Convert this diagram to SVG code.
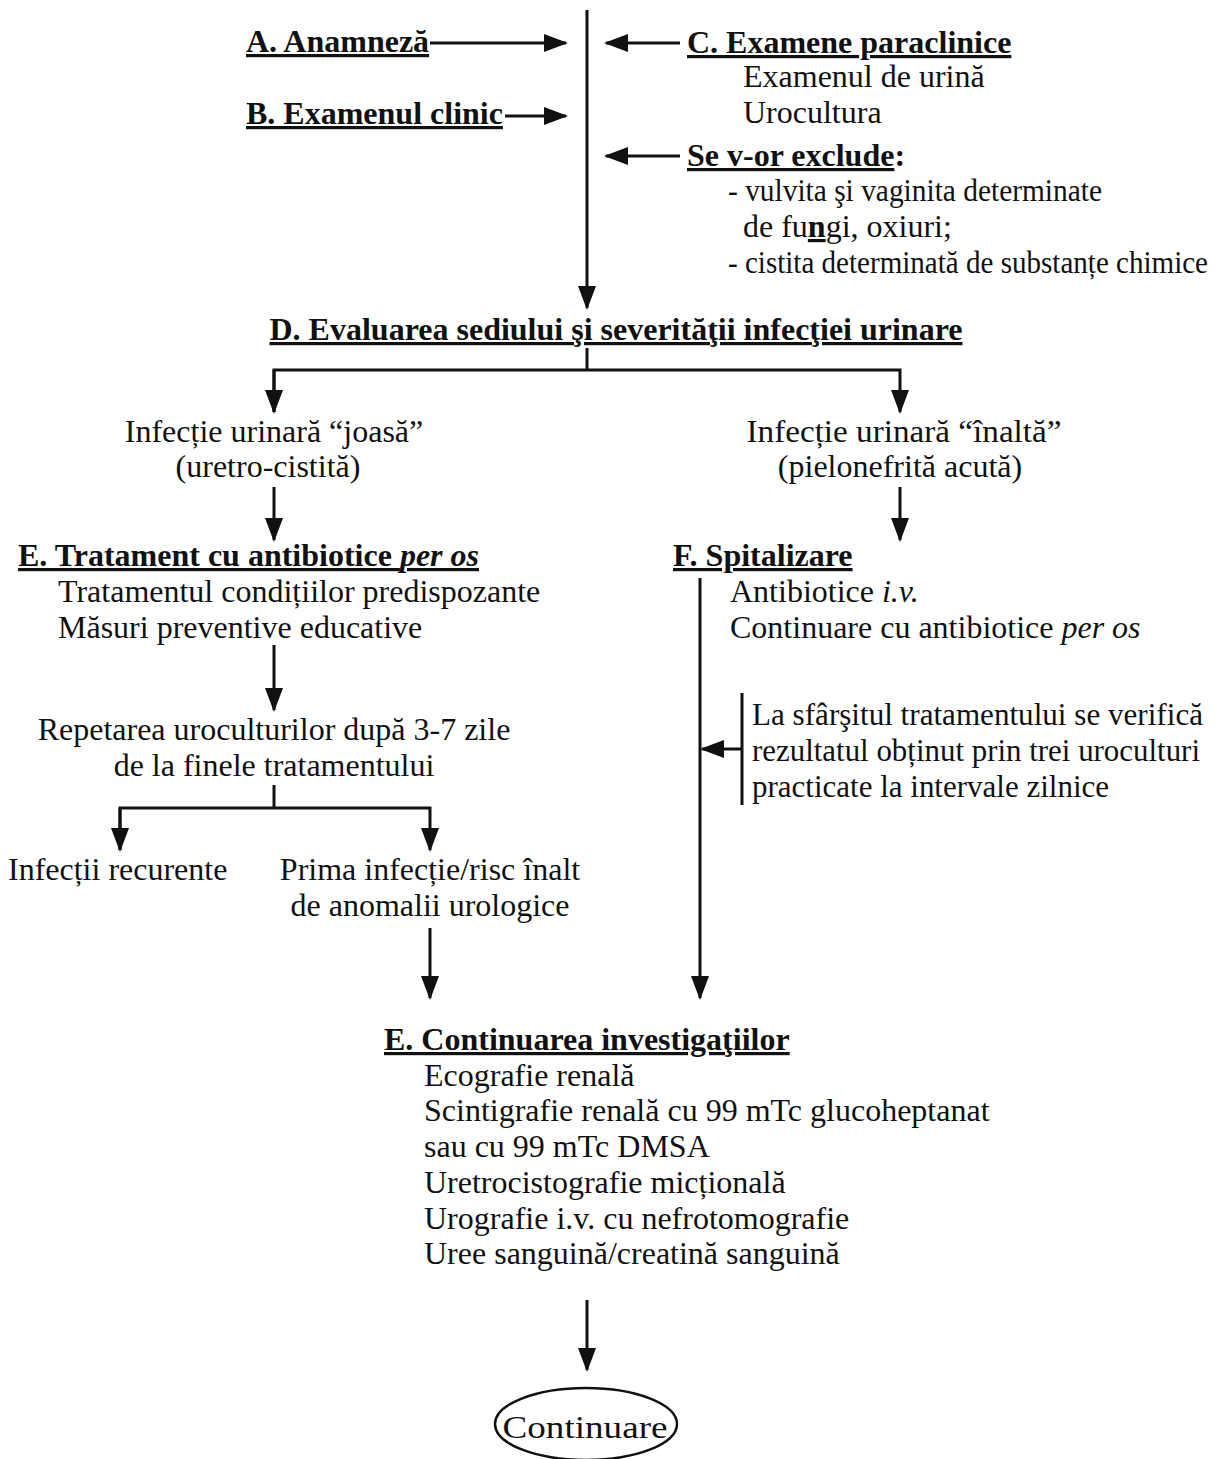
<svg xmlns="http://www.w3.org/2000/svg" width="1220" height="1459" viewBox="0 0 1220 1459">
<style>
  text { font-family: "Liberation Serif", "Times New Roman", serif; font-size: 32px; fill: #111; }
  .h { font-weight: bold; text-decoration: underline; text-decoration-thickness: 2.5px; }
  .c { text-anchor: middle; }
  .it { font-style: italic; }
  .ln { stroke: #111; stroke-width: 3; fill: none; }
</style>
<defs>
  <marker id="ah" markerUnits="userSpaceOnUse" markerWidth="24" markerHeight="18" viewBox="0 0 24 18" refX="22" refY="9" orient="auto">
    <path d="M0,0 L24,9 L0,18 Z" fill="#111"/>
  </marker>
</defs>

<g id="connectors">
  <line class="ln" x1="587" y1="10" x2="587" y2="308" marker-end="url(#ah)"/>
  <line class="ln" x1="430" y1="43" x2="566" y2="43" marker-end="url(#ah)"/>
  <line class="ln" x1="505" y1="116" x2="566" y2="116" marker-end="url(#ah)"/>
  <line class="ln" x1="680" y1="43" x2="606" y2="43" marker-end="url(#ah)"/>
  <line class="ln" x1="680" y1="156" x2="606" y2="156" marker-end="url(#ah)"/>
  <polyline class="ln" points="587,348 587,370"/>
  <polyline class="ln" points="274,412 274,370 900,370 900,412" marker-end="url(#ah)"/>
  <line class="ln" x1="274" y1="370" x2="274" y2="412" marker-end="url(#ah)"/>
  <line class="ln" x1="274" y1="487" x2="274" y2="540" marker-end="url(#ah)"/>
  <line class="ln" x1="900" y1="487" x2="900" y2="540" marker-end="url(#ah)"/>
  <line class="ln" x1="274" y1="645" x2="274" y2="710" marker-end="url(#ah)"/>
  <polyline class="ln" points="274,785 274,808"/>
  <polyline class="ln" points="120,850 120,808 430,808 430,850" marker-end="url(#ah)"/>
  <line class="ln" x1="120" y1="808" x2="120" y2="850" marker-end="url(#ah)"/>
  <line class="ln" x1="430" y1="928" x2="430" y2="998" marker-end="url(#ah)"/>
  <line class="ln" x1="700" y1="578" x2="700" y2="998" marker-end="url(#ah)"/>
  <line class="ln" x1="742" y1="693" x2="742" y2="805"/>
  <line class="ln" x1="742" y1="749" x2="702" y2="749" marker-end="url(#ah)"/>
  <line class="ln" x1="587" y1="1300" x2="587" y2="1370" marker-end="url(#ah)"/>
</g>

<g id="node-a"><text class="h" x="246" y="52">A. Anamneză</text></g>
<g id="node-b"><text class="h" x="246" y="124">B. Examenul clinic</text></g>
<g id="node-c">
  <text class="h" x="687" y="53">C. Examene paraclinice</text>
  <text x="743" y="87">Examenul de urină</text>
  <text x="743" y="123">Urocultura</text>
</g>
<g id="node-excl">
  <text x="687" y="166"><tspan class="h">Se v-or exclude</tspan><tspan font-weight="bold">:</tspan></text>
  <text x="728" y="201" textLength="374" lengthAdjust="spacingAndGlyphs">- vulvita şi vaginita determinate</text>
  <text x="743" y="237">de fu<tspan class="h">n</tspan>gi, oxiuri;</text>
  <text x="728" y="273" font-size="30" textLength="480" lengthAdjust="spacingAndGlyphs">- cistita determinată de substanțe chimice</text>
</g>
<g id="node-d"><text class="h c" x="616" y="340">D. Evaluarea sediului şi severităţii infecţiei urinare</text></g>
<g id="node-low">
  <text class="c" x="274" y="442">Infecție urinară “joasă”</text>
  <text class="c" x="268" y="477">(uretro-cistită)</text>
</g>
<g id="node-high">
  <text class="c" x="904" y="442" textLength="315" lengthAdjust="spacingAndGlyphs">Infecție urinară “înaltă”</text>
  <text class="c" x="900" y="477">(pielonefrită acută)</text>
</g>
<g id="node-e1">
  <text class="h" x="18" y="566">E. Tratament cu antibiotice <tspan class="it">per os</tspan></text>
  <text x="58" y="602">Tratamentul condițiilor predispozante</text>
  <text x="58" y="638">Măsuri preventive educative</text>
</g>
<g id="node-f">
  <text class="h" x="673" y="566">F. Spitalizare</text>
  <text x="730" y="602">Antibiotice <tspan class="it">i.v.</tspan></text>
  <text x="730" y="638">Continuare cu antibiotice <tspan class="it">per os</tspan></text>
</g>
<g id="node-check">
  <text x="752" y="725" textLength="451" lengthAdjust="spacingAndGlyphs">La sfârşitul tratamentului se verifică</text>
  <text x="752" y="761" textLength="448" lengthAdjust="spacingAndGlyphs">rezultatul obținut prin trei uroculturi</text>
  <text x="752" y="797" textLength="357" lengthAdjust="spacingAndGlyphs">practicate la intervale zilnice</text>
</g>
<g id="node-repeat">
  <text class="c" x="274" y="740">Repetarea uroculturilor după 3-7 zile</text>
  <text class="c" x="274" y="776">de la finele tratamentului</text>
</g>
<g id="node-recur"><text x="8" y="880">Infecții recurente</text></g>
<g id="node-first">
  <text class="c" x="430" y="880">Prima infecție/risc înalt</text>
  <text class="c" x="430" y="916">de anomalii urologice</text>
</g>
<g id="node-e2">
  <text class="h" x="384" y="1050">E. Continuarea investigaţiilor</text>
  <text x="424" y="1086">Ecografie renală</text>
  <text x="424" y="1121">Scintigrafie renală cu 99 mTc glucoheptanat</text>
  <text x="424" y="1157">sau cu 99 mTc DMSA</text>
  <text x="424" y="1193">Uretrocistografie micțională</text>
  <text x="424" y="1229">Urografie i.v. cu nefrotomografie</text>
  <text x="424" y="1264">Uree sanguină/creatină sanguină</text>
</g>
<g id="node-end">
  <ellipse cx="586" cy="1424" rx="91" ry="36" fill="none" stroke="#111" stroke-width="2.5"/>
  <text class="c" x="585" y="1438" font-size="42" textLength="165" lengthAdjust="spacingAndGlyphs">Continuare</text>
</g>
</svg>
